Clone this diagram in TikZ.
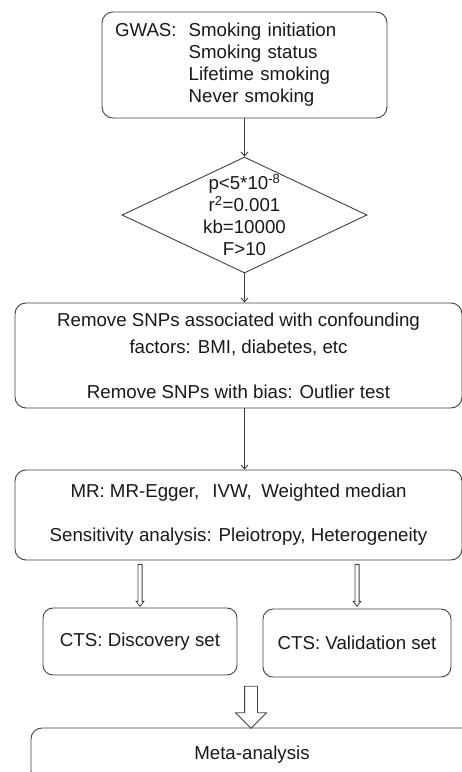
\documentclass[tikz,border=0pt]{standalone}
\usepackage{fontspec}
\setmainfont{Liberation Sans}
\usetikzlibrary{shapes.geometric,shapes.arrows,arrows.meta}
\colorlet{linecol}{black!75}
\tikzset{
  box/.style = {draw=linecol, rounded corners=11pt, line width=0.9pt,
    align=center, text=black!90, font=\fontsize{18.7}{22}\selectfont},
  decision/.style = {draw=linecol, diamond, line width=0.9pt, inner sep=0pt,
    minimum width=245pt, minimum height=116pt},
  hollow/.style = {draw=linecol, single arrow, shape border rotate=270,
    line width=0.8pt}
}
\tikzset{>={Straight Barb[length=4pt,width=7pt]}}

\begin{document}
\begin{tikzpicture}[x=1pt,y=-1pt,line width=0.9pt]
  \path[use as bounding box,clip] (0,0) rectangle (462,772);
  % boxes
  \node[box, minimum width=285pt, minimum height=106pt, text width=259pt, align=left] (gwas) at (244.5,65)
    {\begin{tabular}{@{}l@{\hspace{12pt}}l@{}}
      GWAS: & Smoking initiation\\
            & Smoking status\\
            & Lifetime smoking\\
            & Never smoking
     \end{tabular}};
  \node[decision] (filt) at (244.5,215) {};
  \node[font=\fontsize{18.7}{22}\selectfont, text=black!90, align=center] (filttxt) at (244.5,215)
    {p<5*10\textsuperscript{-8}\\ r\textsuperscript{2}=0.001\\ kb=10000\\ F>10};
  \node[box, minimum width=447pt, minimum height=105pt] (remove) at (238.5,355.5)
    {Remove SNPs associated with confounding\\[5pt]
     factors: BMI, diabetes, etc\\[23pt]
     Remove SNPs with bias: Outlier test};
  \node[box, minimum width=447pt, minimum height=90pt] (mr) at (238.5,515)
    {MR: MR-Egger,\hspace{0.7em}IVW,\hspace{0.5em}Weighted median\\[22pt]
     Sensitivity analysis: Pleiotropy, Heterogeneity};
  \node[box, rounded corners=10pt, minimum width=194pt, minimum height=67pt] (disc) at (140,641.5) {CTS: Discovery set};
  \node[box, rounded corners=10pt, minimum width=188pt, minimum height=68pt] (valid) at (357,643) {CTS: Validation set};
  \node[box, minimum width=442pt, minimum height=54pt] (meta) at (252,755) {Meta-analysis};
  % connectors
  \draw[linecol,->] (gwas.south -| filt) -- (filt.north);
  \draw[linecol,->] (filt.south) -- (filt.south |- remove.north);
  \draw[linecol,->] (remove.south -| filt) -- (mr.north -| filt);
  \node[hollow, inner sep=1.7pt, minimum height=42pt, single arrow head extend=1.8pt, single arrow tip angle=76] (adisc) at (140,584) {};
  \node[hollow, inner sep=1.7pt, minimum height=42pt, single arrow head extend=1.8pt, single arrow tip angle=76] (avalid) at (357,584) {};
  \node[hollow, inner sep=6pt, minimum height=42pt, single arrow head extend=9pt, single arrow tip angle=90] (ameta) at (251,704) {};
\end{tikzpicture}
\end{document}
